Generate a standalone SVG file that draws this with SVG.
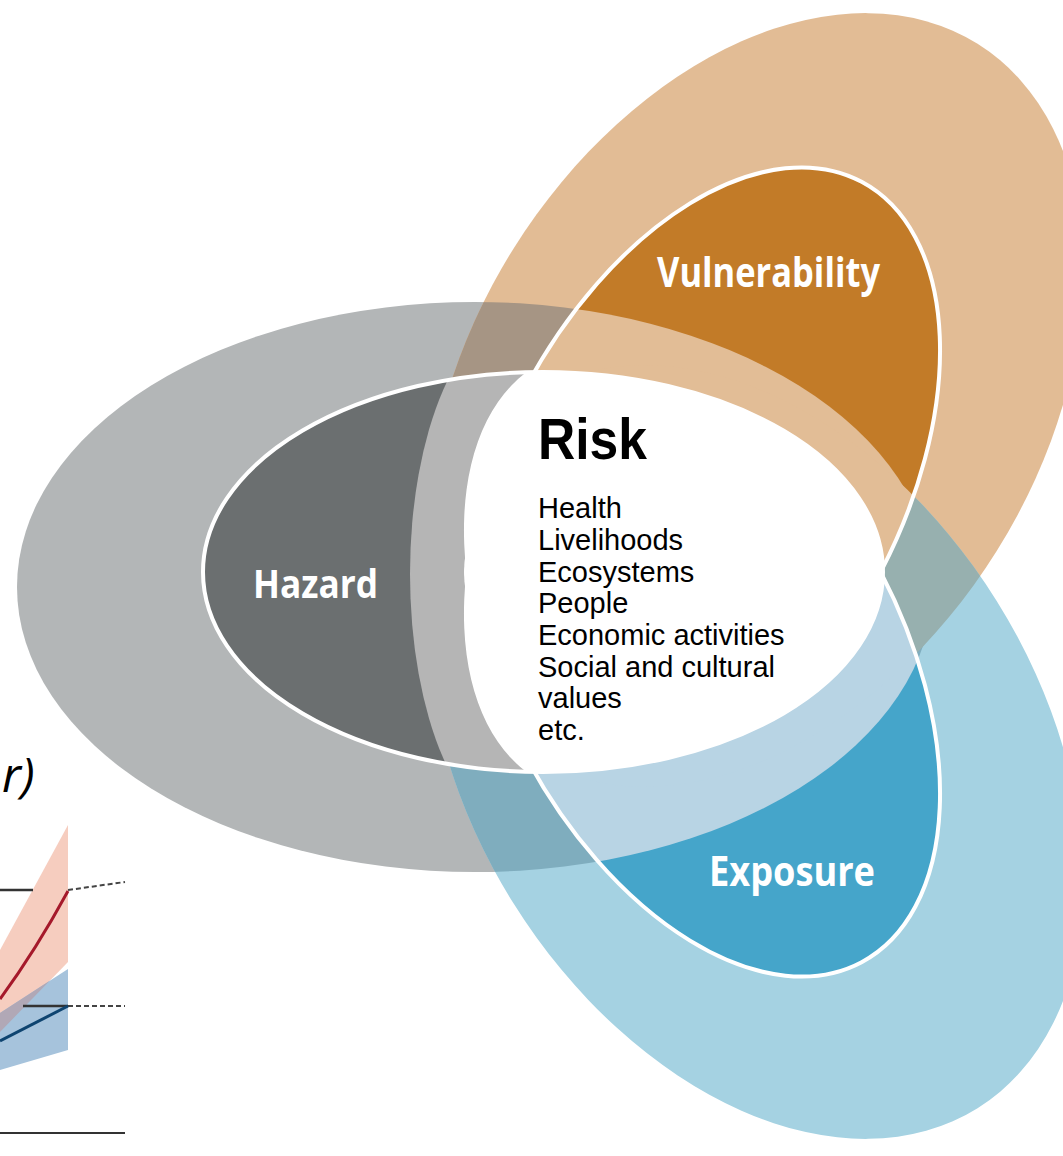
<svg xmlns="http://www.w3.org/2000/svg" width="1063" height="1156" viewBox="0 0 1063 1156">
<style>
.lbl{font-family:"Open Sans","Liberation Sans",sans-serif;font-weight:700;fill:#fff}
.lst{font-family:"Liberation Sans",Arial,sans-serif;font-size:29px;fill:#000}
.wline{fill:none;stroke:#fff;stroke-width:4}
</style>
<defs>
<ellipse id="eG" cx="475" cy="587" rx="458" ry="285"/>
<ellipse id="eT" cx="755" cy="400" rx="420" ry="285" transform="rotate(-58 755 400)"/>
<ellipse id="eB" cx="755" cy="752" rx="420" ry="285" transform="rotate(58 755 752)"/>
<ellipse id="eH" cx="543" cy="572" rx="340" ry="200"/>
<ellipse id="eV" cx="702" cy="482" rx="340" ry="200" transform="rotate(-62 702 482)"/>
<ellipse id="eE" cx="702" cy="662" rx="340" ry="200" transform="rotate(62 702 662)"/>
<clipPath id="cG"><use href="#eG"/></clipPath>
<clipPath id="cT"><use href="#eT"/></clipPath>
<clipPath id="cH"><use href="#eH"/></clipPath>
<clipPath id="cV"><use href="#eV"/></clipPath>
<clipPath id="cE"><use href="#eE"/></clipPath>
<clipPath id="up"><rect x="0" y="0" width="1063" height="572"/></clipPath>
<clipPath id="dn"><rect x="0" y="572" width="1063" height="584"/></clipPath>
</defs>
<rect width="1063" height="1156" fill="#fff"/>

<g id="chart">
<polygon points="68,825 68,962 0,1032 0,950" fill="#F6CDBF"/>
<polygon points="68,969 68,1050 0,1070 0,1013" fill="#A6C3DC"/>
<polygon points="49.7,980.8 0,1013 0,1032" fill="#B1A8B6"/>
<line x1="0" y1="890" x2="33" y2="890" stroke="#333" stroke-width="2.5"/>
<path d="M68 891Q36 950 0 999" fill="none" stroke="#A5192B" stroke-width="3"/>
<line x1="68" y1="890" x2="125" y2="882" stroke="#444" stroke-width="2" stroke-dasharray="5,3"/>
<line x1="23" y1="1006" x2="68" y2="1006" stroke="#333" stroke-width="2.5"/>
<line x1="68" y1="1006" x2="0" y2="1041" stroke="#0E4470" stroke-width="3"/>
<line x1="68" y1="1006" x2="125" y2="1006" stroke="#444" stroke-width="2" stroke-dasharray="5,3"/>
<line x1="0" y1="1133" x2="125" y2="1133" stroke="#333" stroke-width="2"/>
<text x="2" y="792" font-family="'Open Sans','Liberation Sans',sans-serif" font-style="italic" font-size="48" fill="#000">r)</text>
</g>

<g id="outer">
<use href="#eG" fill="#B3B6B7"/>
<use href="#eT" fill="#E2BC95"/>
<use href="#eB" fill="#A5D2E2"/>
<use href="#eT" fill="#A69584" clip-path="url(#cG)"/>
<use href="#eB" fill="#7FADBE" clip-path="url(#cG)"/>
<use href="#eB" fill="#97B0AF" clip-path="url(#cT)"/>
</g>

<g id="vulnerability">
<g clip-path="url(#up)">
<use href="#eV" fill="#C27B28"/>
<g clip-path="url(#cV)"><use href="#eG" fill="#E2BD96"/><use href="#eB" fill="#E2BD96"/></g>
</g>
<text class="lbl" x="657" y="287" font-size="42" textLength="223" lengthAdjust="spacingAndGlyphs">Vulnerability</text>
</g>

<g id="exposure">
<g clip-path="url(#dn)">
<use href="#eE" fill="#45A5CA"/>
<g clip-path="url(#cE)"><use href="#eG" fill="#B8D4E4"/><use href="#eT" fill="#B8D4E4"/></g>
</g>
<text class="lbl" x="709" y="886" font-size="42" textLength="166" lengthAdjust="spacingAndGlyphs">Exposure</text>
</g>

<g id="hazard">
<use href="#eH" fill="#6B6F70"/>
<g clip-path="url(#cH)" fill="#B5B5B5">
<ellipse cx="523" cy="574" rx="113" ry="260"/>
</g>
<text class="lbl" x="253" y="598" font-size="40" textLength="125" lengthAdjust="spacingAndGlyphs">Hazard</text>
</g>

<g id="risk">
<g clip-path="url(#cH)" fill="#fff">
<use href="#eV"/>
<use href="#eE"/>
<ellipse cx="560" cy="572" rx="96" ry="100"/>
</g>
<text x="538" y="459" font-family="'Liberation Sans',Arial,sans-serif" font-weight="700" font-size="58" textLength="109" lengthAdjust="spacingAndGlyphs">Risk</text>
<text class="lst" x="538" y="518">Health</text>
<text class="lst" x="538" y="550">Livelihoods</text>
<text class="lst" x="538" y="582">Ecosystems</text>
<text class="lst" x="538" y="613">People</text>
<text class="lst" x="538" y="645">Economic activities</text>
<text class="lst" x="538" y="677">Social and cultural</text>
<text class="lst" x="538" y="708">values</text>
<text class="lst" x="538" y="740">etc.</text>
</g>

<g id="connectors">
<use href="#eH" class="wline"/>
<use href="#eV" class="wline" clip-path="url(#up)"/>
<use href="#eE" class="wline" clip-path="url(#dn)"/>
</g>
</svg>
